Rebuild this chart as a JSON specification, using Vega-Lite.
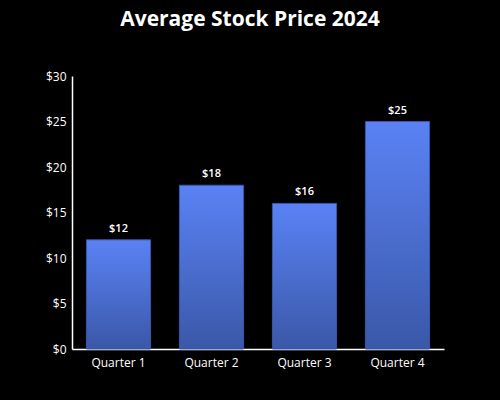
{
  "$schema": "https://vega.github.io/schema/vega-lite/v6.json",
  "autosize": "none",
  "width": 372,
  "height": 273,
  "padding": {"left": 72, "top": 76, "right": 56, "bottom": 51},
  "background": "#000000",
  "title": {
    "text": "Average Stock Price 2024",
    "font": "Open Sans",
    "fontSize": 21,
    "fontWeight": "bold",
    "color": "#ffffff",
    "anchor": "middle",
    "dx": -8,
    "offset": 40
  },
  "data": {
    "values": [
      {"quarter": "Quarter 1", "price": 12},
      {"quarter": "Quarter 2", "price": 18},
      {"quarter": "Quarter 3", "price": 16},
      {"quarter": "Quarter 4", "price": 25}
    ]
  },
  "encoding": {
    "x": {
      "field": "quarter",
      "type": "nominal",
      "sort": null,
      "title": null,
      "scale": {"paddingInner": 0.31, "paddingOuter": 0.155},
      "axis": {
        "labelAngle": 0,
        "labelColor": "#ffffff",
        "labelFont": "Open Sans",
        "labelFontSize": 12,
        "labelPadding": 8,
        "domainColor": "#ffffff",
        "domainWidth": 1.5,
        "ticks": false
      }
    },
    "y": {
      "field": "price",
      "type": "quantitative",
      "title": null,
      "scale": {"domain": [0, 30]},
      "axis": {
        "values": [0, 5, 10, 15, 20, 25, 30],
        "format": "$d",
        "labelColor": "#ffffff",
        "labelFont": "Open Sans",
        "labelFontSize": 12,
        "labelPadding": 6,
        "domainColor": "#ffffff",
        "domainWidth": 1.5,
        "ticks": false,
        "grid": false
      }
    }
  },
  "layer": [
    {
      "mark": {
        "type": "bar",
        "stroke": "#3a56a6",
        "strokeWidth": 1,
        "color": {
          "gradient": "linear",
          "x1": 0, "y1": 0, "x2": 0, "y2": 1,
          "stops": [
            {"offset": 0, "color": "#5a82f5"},
            {"offset": 1, "color": "#3a58a8"}
          ]
        }
      }
    },
    {
      "mark": {
        "type": "text",
        "baseline": "bottom",
        "dy": -6,
        "color": "#ffffff",
        "font": "Open Sans",
        "fontSize": 11,
        "fontWeight": 600
      },
      "encoding": {
        "text": {"field": "price", "type": "quantitative", "format": "$d"}
      }
    }
  ],
  "config": {"view": {"stroke": null}}
}
